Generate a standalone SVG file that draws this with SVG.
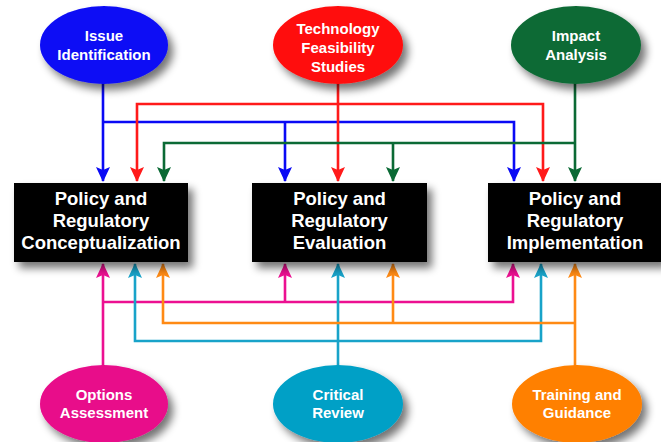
<svg xmlns="http://www.w3.org/2000/svg" width="661" height="442" viewBox="0 0 661 442">
  <style>
    .lbl { font-family: "Liberation Sans", Arial, sans-serif; font-weight: bold; fill: #ffffff; text-anchor: middle; }
    .oval-lbl { font-size: 15px; }
    .box-lbl { font-size: 18.5px; }
    .box { fill: #000000; filter: url(#shadow); }
    .oval { filter: url(#shadow); }
    .wire { fill: none; stroke-width: 2.6; }
    .blue { stroke: #0a0af5; }
    .red { stroke: #ff1a1a; }
    .green { stroke: #0b6a35; }
    .pink { stroke: #ec1091; }
    .cyan { stroke: #18a3c9; }
    .orange { stroke: #ff8a14; }
  </style>
  <defs>
    <filter id="shadow" x="-20%" y="-20%" width="150%" height="160%">
      <feGaussianBlur in="SourceAlpha" stdDeviation="4"/>
      <feOffset dx="5" dy="6" result="blur"/>
      <feComponentTransfer><feFuncA type="linear" slope="0.55"/></feComponentTransfer>
      <feMerge><feMergeNode/><feMergeNode in="SourceGraphic"/></feMerge>
    </filter>
    <marker id="ah-blue" markerUnits="userSpaceOnUse" markerWidth="15" markerHeight="15" refX="14" refY="7" orient="auto" viewBox="0 0 15 14">
      <path d="M0,0 L15,7 L0,14 L3,7 Z" fill="#0a0af5"/>
    </marker>
    <marker id="ah-red" markerUnits="userSpaceOnUse" markerWidth="15" markerHeight="15" refX="14" refY="7" orient="auto" viewBox="0 0 15 14">
      <path d="M0,0 L15,7 L0,14 L3,7 Z" fill="#ff1a1a"/>
    </marker>
    <marker id="ah-green" markerUnits="userSpaceOnUse" markerWidth="15" markerHeight="15" refX="14" refY="7" orient="auto" viewBox="0 0 15 14">
      <path d="M0,0 L15,7 L0,14 L3,7 Z" fill="#0b6a35"/>
    </marker>
    <marker id="ah-pink" markerUnits="userSpaceOnUse" markerWidth="15" markerHeight="15" refX="14" refY="7" orient="auto" viewBox="0 0 15 14">
      <path d="M0,0 L15,7 L0,14 L3,7 Z" fill="#ec1091"/>
    </marker>
    <marker id="ah-cyan" markerUnits="userSpaceOnUse" markerWidth="15" markerHeight="15" refX="14" refY="7" orient="auto" viewBox="0 0 15 14">
      <path d="M0,0 L15,7 L0,14 L3,7 Z" fill="#18a3c9"/>
    </marker>
    <marker id="ah-orange" markerUnits="userSpaceOnUse" markerWidth="15" markerHeight="15" refX="14" refY="7" orient="auto" viewBox="0 0 15 14">
      <path d="M0,0 L15,7 L0,14 L3,7 Z" fill="#ff8a14"/>
    </marker>
  </defs>

  <rect width="661" height="442" fill="#ffffff"/>

  <!-- connectors -->
  <g id="connectors">
    <!-- Issue Identification (blue) -->
    <path class="wire blue" d="M103,80 V181" marker-end="url(#ah-blue)"/>
    <path class="wire blue" d="M103,122 H514 V181" marker-end="url(#ah-blue)"/>
    <path class="wire blue" d="M285,122 V181" marker-end="url(#ah-blue)"/>
    <!-- Technology Feasibility Studies (red) -->
    <path class="wire red" d="M338,80 V181" marker-end="url(#ah-red)"/>
    <path class="wire red" d="M338,104 H137 V181" marker-end="url(#ah-red)"/>
    <path class="wire red" d="M338,104 H543 V181" marker-end="url(#ah-red)"/>
    <!-- Impact Analysis (green) -->
    <path class="wire green" d="M575,80 V181" marker-end="url(#ah-green)"/>
    <path class="wire green" d="M575,143 H164 V181" marker-end="url(#ah-green)"/>
    <path class="wire green" d="M393,143 V181" marker-end="url(#ah-green)"/>
    <!-- Options Assessment (pink) -->
    <path class="wire pink" d="M103,368 V264" marker-end="url(#ah-pink)"/>
    <path class="wire pink" d="M103,302 H513 V264" marker-end="url(#ah-pink)"/>
    <path class="wire pink" d="M285,302 V264" marker-end="url(#ah-pink)"/>
    <!-- Critical Review (cyan) -->
    <path class="wire cyan" d="M338,368 V264" marker-end="url(#ah-cyan)"/>
    <path class="wire cyan" d="M338,341 H135 V264" marker-end="url(#ah-cyan)"/>
    <path class="wire cyan" d="M338,341 H541 V264" marker-end="url(#ah-cyan)"/>
    <!-- Training and Guidance (orange) -->
    <path class="wire orange" d="M575,368 V264" marker-end="url(#ah-orange)"/>
    <path class="wire orange" d="M575,323 H163 V264" marker-end="url(#ah-orange)"/>
    <path class="wire orange" d="M393,323 V264" marker-end="url(#ah-orange)"/>
  </g>

  <!-- top ovals -->
  <g id="issue-identification">
    <ellipse class="oval" cx="104" cy="45" rx="64" ry="39" fill="#0a0af5"/>
    <text class="lbl oval-lbl" x="104" y="41">Issue</text>
    <text class="lbl oval-lbl" x="104" y="60">Identification</text>
  </g>
  <g id="technology-feasibility">
    <ellipse class="oval" cx="338" cy="45" rx="65" ry="39" fill="#ff0d0d"/>
    <text class="lbl oval-lbl" x="338" y="34">Technology</text>
    <text class="lbl oval-lbl" x="338" y="53">Feasibility</text>
    <text class="lbl oval-lbl" x="338" y="72">Studies</text>
  </g>
  <g id="impact-analysis">
    <ellipse class="oval" cx="576" cy="45" rx="65" ry="39" fill="#0b6a35"/>
    <text class="lbl oval-lbl" x="576" y="41">Impact</text>
    <text class="lbl oval-lbl" x="576" y="60">Analysis</text>
  </g>

  <!-- boxes -->
  <g id="conceptualization">
    <rect class="box" x="14" y="183" width="174" height="79"/>
    <text class="lbl box-lbl" x="101" y="205">Policy and</text>
    <text class="lbl box-lbl" x="101" y="227">Regulatory</text>
    <text class="lbl box-lbl" x="101" y="249">Conceptualization</text>
  </g>
  <g id="evaluation">
    <rect class="box" x="252" y="183" width="175" height="79"/>
    <text class="lbl box-lbl" x="339.5" y="205">Policy and</text>
    <text class="lbl box-lbl" x="339.5" y="227">Regulatory</text>
    <text class="lbl box-lbl" x="339.5" y="249">Evaluation</text>
  </g>
  <g id="implementation">
    <rect class="box" x="488" y="183" width="175" height="79"/>
    <text class="lbl box-lbl" x="575" y="205">Policy and</text>
    <text class="lbl box-lbl" x="575" y="227">Regulatory</text>
    <text class="lbl box-lbl" x="575" y="249">Implementation</text>
  </g>

  <!-- bottom ovals -->
  <g id="options-assessment">
    <ellipse class="oval" cx="104" cy="404" rx="64" ry="39" fill="#e8088a"/>
    <text class="lbl oval-lbl" x="104" y="400">Options</text>
    <text class="lbl oval-lbl" x="104" y="418">Assessment</text>
  </g>
  <g id="critical-review">
    <ellipse class="oval" cx="338" cy="404" rx="65" ry="39" fill="#03a0c6"/>
    <text class="lbl oval-lbl" x="338" y="400">Critical</text>
    <text class="lbl oval-lbl" x="338" y="418">Review</text>
  </g>
  <g id="training-guidance">
    <ellipse class="oval" cx="577" cy="404" rx="65" ry="39" fill="#ff8000"/>
    <text class="lbl oval-lbl" x="577" y="400">Training and</text>
    <text class="lbl oval-lbl" x="577" y="418">Guidance</text>
  </g>
</svg>
